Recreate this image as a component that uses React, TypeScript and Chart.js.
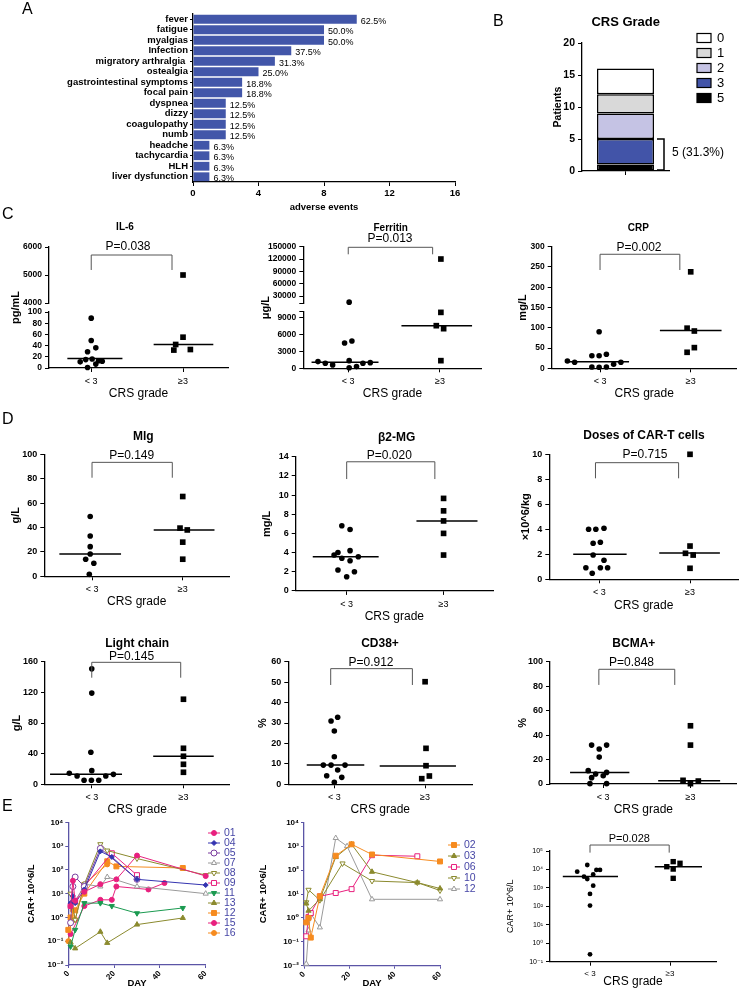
import React, { useEffect, useRef } from 'react';
import { Chart, registerables } from 'chart.js';
import { drawPoint } from 'chart.js/helpers';

Chart.register(...registerables);

const FONT = "'Liberation Sans', 'DejaVu Sans', Arial, sans-serif";
Chart.defaults.font.family = FONT;
Chart.defaults.color = '#000';

type Pt = [number, number];

// ================= DATA =================
// Panel A
const AE_LABELS = ['fever', 'fatigue', 'myalgias', 'Infection', 'migratory arthralgia ', 'ostealgia', 'gastrointestinal symptoms', 'focal pain', 'dyspnea', 'dizzy', 'coagulopathy', 'numb', 'headche', 'tachycardia', 'HLH', 'liver dysfunction'];
const AE_COUNTS = [10, 8, 8, 6, 5, 4, 3, 3, 2, 2, 2, 2, 1, 1, 1, 1];
const AE_TICKS = [0, 4, 8, 12, 16];
const N_PATIENTS = 16;

// Panel B (stack order bottom -> top)
const CRS_GRADES = ['5', '3', '2', '1', '0'];
const CRS_PATIENTS = [1, 4, 4, 3, 4];
const CRS_TICKS = [0, 5, 10, 15, 20];

// Panels C/D/E3 : [x position within group, value]
const GROUPS = ['< 3', '≥3'];

const IL6_LT3: Pt[] = [[1.0, 89], [1.0, 49], [0.96, 29], [1.05, 36], [0.88, 11], [0.94, 15], [1.01, 16], [1.12, 12], [0.96, 1], [1.05, 7], [1.08, 13]];
const IL6_GE3: Pt[] = [[2.0, 5000], [2.0, 55], [1.92, 42], [1.9, 32], [2.08, 33]];
const IL6_MEDIANS = [17, 42];
const IL6_TICKS_HIGH = [4000, 5000, 6000];
const IL6_TICKS_LOW = [0, 20, 40, 60, 80, 100];

const FER_LT3: Pt[] = [[1.01, 15000], [0.96, 4470], [1.04, 4820], [0.67, 1180], [0.75, 880], [0.83, 600], [1.01, 1350], [1.16, 880], [1.24, 1000], [1.01, 100], [1.09, 300]];
const FER_GE3: Pt[] = [[2.01, 120000], [2.01, 9880], [1.96, 7530], [2.04, 7000], [2.01, 1350]];
const FER_MEDIANS = [1060, 7530];
const FER_TICKS_HIGH = [12000, 30000, 60000, 90000, 120000, 150000];
const FER_TICKS_LOW = [0, 3000, 6000, 9000, 10000];

const CRP_LT3: Pt[] = [[0.99, 90], [0.91, 31], [0.99, 31], [1.07, 34.5], [0.64, 18], [0.72, 15], [1.23, 15], [0.91, 3.3], [0.99, 2.5], [1.07, 3.3], [1.15, 10]];
const CRP_GE3: Pt[] = [[2.0, 238], [1.96, 99], [2.04, 92], [1.96, 39.5], [2.04, 51]];
const CRP_MEDIANS = [16.4, 93];
const CRP_TICKS = [0, 50, 100, 150, 200, 250, 300];

const MIG_LT3: Pt[] = [[0.98, 49], [0.98, 33], [0.98, 24.3], [0.98, 18.3], [0.93, 14], [1.02, 10.7], [0.97, 1.6]];
const MIG_GE3: Pt[] = [[2.0, 65.4], [1.97, 39.5], [2.05, 38], [2.0, 28], [2.0, 14]];
const MIG_MEDIANS = [18.3, 38];
const MIG_TICKS = [0, 20, 40, 60, 80, 100];

const B2M_LT3: Pt[] = [[0.95, 6.8], [1.035, 6.4], [0.87, 3.74], [0.91, 4.0], [1.035, 4.2], [0.95, 3.4], [1.035, 3.15], [1.12, 3.56], [0.91, 2.18], [1.0, 1.48], [1.08, 2.0]];
const B2M_GE3: Pt[] = [[2.0, 9.65], [2.0, 8.35], [2.0, 7.3], [2.0, 6.0], [2.0, 3.74]];
const B2M_MEDIANS = [3.56, 7.3];
const B2M_TICKS = [0, 2, 4, 6, 8, 10, 12, 14];

const DOSE_LT3: Pt[] = [[0.88, 4.0], [0.96, 4.0], [1.05, 4.08], [0.93, 2.88], [1.01, 2.96], [0.93, 1.94], [1.05, 1.52], [0.85, 0.93], [0.92, 0.48], [1.01, 0.93], [1.09, 0.93]];
const DOSE_GE3: Pt[] = [[2.0, 10], [2.0, 2.66], [1.95, 2.08], [2.035, 1.94], [2.0, 0.88]];
const DOSE_MEDIANS = [2.0, 2.1];
const DOSE_TICKS = [0, 2, 4, 6, 8, 10];

const LC_LT3: Pt[] = [[1.0, 150.7], [1.0, 119], [0.99, 41.8], [0.755, 14.4], [0.84, 10.8], [1.0, 17.8], [1.153, 10.8], [1.236, 13], [0.916, 5.2], [0.996, 5.2], [1.076, 5.2]];
const LC_GE3: Pt[] = [[2.0, 111], [2.0, 47], [2.0, 36.6], [2.0, 26.1], [2.0, 15.7]];
const LC_MEDIANS = [13, 36.6];
const LC_TICKS = [0, 40, 80, 120, 160];

const CD38_LT3: Pt[] = [[0.964, 31], [1.037, 32.8], [1.0, 26.1], [1.0, 13.5], [0.879, 9.4], [0.964, 9.4], [1.118, 9.4], [1.037, 7], [0.916, 4.2], [1.082, 3.4], [1.0, 1.0]];
const CD38_GE3: Pt[] = [[2.0, 50.2], [2.01, 17.6], [2.01, 9.1], [2.047, 4.06], [1.963, 2.75]];
const CD38_MEDIANS = [9.45, 9.0];
const CD38_TICKS = [0, 10, 20, 30, 40, 50, 60];

const BCMA_LT3: Pt[] = [[0.867, 31.8], [0.954, 28.6], [1.039, 31.8], [0.954, 22], [0.828, 10.9], [1.039, 9.5], [0.913, 8.2], [1.0, 6.8], [0.867, 5.2], [0.848, 0.3], [1.039, 0.3]];
const BCMA_GE3: Pt[] = [[2.0, 47.6], [2.0, 31.8], [1.915, 3.0], [2.09, 2.4], [2.0, 0.3]];
const BCMA_MEDIANS = [9.5, 2.7];
const BCMA_TICKS = [0, 20, 40, 60, 80, 100];

const CARP_LT3: Pt[] = [[0.966, 17400], [0.84, 7600], [1.08, 9400], [1.125, 9400], [0.925, 4070], [0.966, 3020], [1.04, 5400], [1.04, 1320], [1.0, 470], [1.0, 110], [1.0, 0.25]];
const CARP_GE3: Pt[] = [[2.04, 26500], [2.125, 21600], [1.96, 14100], [2.04, 10500], [2.04, 3300]];
const CARP_MEDIANS = [4100, 14100];
const CARP_TICKS = [0.1, 1, 10, 100, 1000, 10000, 100000];

// Panel E kinetics : [day, CAR+ 10^6/L]
const DAY_TICKS = [0, 20, 40, 60];
const E_LOG_TICKS = [0.01, 0.1, 1, 10, 100, 1000, 10000];

const E1_01: Pt[] = [[1, 3], [2, 35], [3, 5], [7, 12], [14, 25], [21, 40], [30, 400], [60, 55]];
const E1_04: Pt[] = [[1, 4], [2, 8], [3, 4], [7, 15], [14, 600], [19, 350], [30, 40], [60, 23]];
const E1_05: Pt[] = [[1, 0.6], [2, 20], [3, 50], [7, 20], [14, 800], [30, 40]];
const E1_07: Pt[] = [[1, 3], [3, 4], [7, 25], [14, 20], [17, 50], [30, 20], [60, 10]];
const E1_08: Pt[] = [[1, 10], [3, 0.8], [7, 25], [14, 1200], [17, 650], [30, 300], [60, 60]];
const E1_09: Pt[] = [[1, 3], [3, 5], [7, 20], [19, 500], [30, 60]];
const E1_11: Pt[] = [[1, 0.06], [3, 0.3], [7, 4], [14, 4], [19, 3], [30, 1.5], [50, 2.5]];
const E1_13: Pt[] = [[1, 0.09], [3, 0.05], [14, 0.25], [17, 0.085], [30, 0.5], [50, 0.95]];
const E1_12: Pt[] = [[0, 0.3], [1, 1], [3, 2], [7, 10], [17, 230], [21, 140], [50, 120]];
const E1_15: Pt[] = [[1, 0.2], [7, 3], [14, 5.5], [19, 5.5], [21, 20], [35, 15], [42, 28]];
const E1_16: Pt[] = [[0, 0.1], [2, 2], [3, 0.8], [7, 25], [17, 170]];

const E2_02: Pt[] = [[1, 0.65], [2, 1.0], [3, 0.15], [7, 8], [14, 400], [21, 1200], [30, 450], [60, 230]];
const E2_03: Pt[] = [[1, 4], [2, 2], [7, 6], [14, 350], [21, 1200], [30, 85], [50, 30], [60, 17]];
const E2_06: Pt[] = [[1, 0.17], [2, 1.1], [3, 1.6], [7, 8], [14, 11], [21, 16], [30, 420], [50, 380]];
const E2_10: Pt[] = [[1, 4.5], [2, 15], [7, 5.5], [17, 190], [30, 35], [50, 30], [60, 14]];
const E2_12: Pt[] = [[1, 0.012], [2, 0.3], [3, 1.5], [7, 0.4], [14, 2200], [19, 1000], [30, 6], [60, 6]];

// ================= STYLE / LAYOUT =================
const BLUE = '#4256A9';
const MAG = '#E8207E';
const BLU = '#3434B0';
const PUR = '#7A3D9E';
const GRY = '#9A9A9A';
const OLV = '#8B8A2E';
const GRN = '#1A9A50';
const ORG = '#F68B1F';
const E_AX = '#5B55A6';
const E_LEG = '#4646A6';

interface Geo { cl: number; ct: number; cw: number; ch: number; al: number; at: number; ar: number; ab: number; }
interface Txt { text: string; x: number; y: number; size: number; bold?: boolean; color?: string; align?: CanvasTextAlign; }
interface YPart { id: string; min: number; max: number; ticks: number[]; blank?: number[]; stackWeight?: number; weight?: number; log?: boolean; }
interface Bracket { x1: number; x2: number; top: number; bottom: number; axis: string; }

const font = (size: number, bold = false) => ({ family: FONT, size, weight: bold ? 'bold' : 'normal', lineHeight: 1.2 });
const fixedTicks = (values: number[]) => (s: any) => { s.ticks = values.map((v) => ({ value: v })); };
const axis = (color: string, tickLength: number) => ({
  grid: { display: true, drawOnChartArea: false, drawTicks: true, tickLength, color, lineWidth: 1, offset: false },
  border: { display: true, color, width: 1.3 },
});
const padFor = (g: Geo, left: number) => ({ left, top: g.at - g.ct, right: g.cl + g.cw - g.ar, bottom: 0 });
const SUP: Record<string, string> = { '0': '⁰', '1': '¹', '2': '²', '3': '³', '4': '⁴', '5': '⁵', '6': '⁶', '7': '⁷', '8': '⁸', '9': '⁹', '-': '⁻' };
const pow10 = (v: number) => '10' + String(Math.round(Math.log10(v))).split('').map((c) => SUP[c]).join('');

function decor(g: Geo, texts: Txt[], bracket?: Bracket) {
  return {
    id: 'decor',
    afterDraw(chart: any) {
      const ctx: CanvasRenderingContext2D = chart.ctx;
      ctx.save();
      if (bracket) {
        const xs = chart.scales.x;
        const ys = chart.scales[bracket.axis];
        const x1 = xs.getPixelForValue(bracket.x1);
        const x2 = xs.getPixelForValue(bracket.x2);
        const yt = ys.getPixelForValue(bracket.top);
        const yb = ys.getPixelForValue(bracket.bottom);
        ctx.strokeStyle = '#555';
        ctx.lineWidth = 1;
        ctx.beginPath();
        ctx.moveTo(x1, yb); ctx.lineTo(x1, yt); ctx.lineTo(x2, yt); ctx.lineTo(x2, yb);
        ctx.stroke();
      }
      for (const t of texts) {
        ctx.font = `${t.bold ? 'bold ' : ''}${t.size}px ${FONT}`;
        ctx.fillStyle = t.color || '#000';
        ctx.textAlign = t.align || 'center';
        ctx.textBaseline = 'middle';
        ctx.fillText(t.text, t.x - g.cl, t.y - g.ct);
      }
      ctx.restore();
    },
  };
}

// ---------- Panel A ----------
const GA: Geo = { cl: 0, ct: 0, cw: 480, ch: 215, al: 193, at: 14, ar: 455, ab: 182 };
const aePlugin = {
  id: 'aeLabels',
  afterDatasetsDraw(chart: any) {
    const ctx: CanvasRenderingContext2D = chart.ctx;
    const meta = chart.getDatasetMeta(0);
    ctx.save();
    ctx.font = `9px ${FONT}`;
    ctx.fillStyle = '#000';
    ctx.textAlign = 'left';
    ctx.textBaseline = 'middle';
    meta.data.forEach((bar: any, i: number) => {
      ctx.fillText(`${((AE_COUNTS[i] / N_PATIENTS) * 100).toFixed(1)}%`, bar.x + 4, bar.y + 2);
    });
    ctx.restore();
  },
};
function buildA() {
  const g = GA;
  return {
    type: 'bar',
    data: { labels: AE_LABELS, datasets: [{ data: AE_COUNTS, backgroundColor: BLUE, borderWidth: 0, barPercentage: 0.84, categoryPercentage: 1 }] },
    options: {
      indexAxis: 'y', responsive: false, animation: false, devicePixelRatio: 1, events: [],
      layout: { padding: padFor(g, 0) },
      plugins: { legend: { display: false }, tooltip: { enabled: false } },
      scales: {
        x: {
          type: 'linear', min: 0, max: 16, afterBuildTicks: fixedTicks(AE_TICKS),
          afterFit: (s: any) => { s.height = g.ct + g.ch - g.ab; },
          ticks: { font: font(9.5, true), color: '#000', padding: 2, autoSkip: false, maxRotation: 0 },
          ...axis('#000', 4),
          title: { display: true, text: 'adverse events', font: font(9.5, true), color: '#000', padding: { top: 0, bottom: 2 } },
        },
        y: {
          type: 'category', afterFit: (s: any) => { s.width = g.al - g.cl; },
          ticks: { font: font(9.5, true), color: '#000', padding: 2, autoSkip: false },
          ...axis('#000', 3),
        },
      },
    },
    plugins: [aePlugin],
  };
}

// ---------- Panel B ----------
const GB: Geo = { cl: 480, ct: 0, cw: 262, ch: 190, al: 582, at: 43, ar: 669, ab: 171 };
const CRS_COLORS = ['#000000', '#4254A8', '#C5C3E4', '#D9D9D9', '#FFFFFF'];
function buildB() {
  const g = GB;
  const padL = 558 - 6.3 - g.cl;
  const crsPlugin = {
    id: 'crs',
    afterDraw(chart: any) {
      const ctx: CanvasRenderingContext2D = chart.ctx;
      ctx.save();
      ctx.fillStyle = '#000';
      ctx.font = `bold 13px ${FONT}`;
      ctx.textAlign = 'center';
      ctx.textBaseline = 'middle';
      ctx.fillText('CRS Grade', 625.7 - g.cl, 22 - g.ct);
      const ds = chart.data.datasets;
      for (let k = 0; k < ds.length; k++) {
        const d = ds[ds.length - 1 - k];
        const y = 38 + k * 15 - g.ct;
        const x = 697 - g.cl;
        ctx.fillStyle = d.backgroundColor;
        ctx.fillRect(x, y - 4.5, 14, 9);
        ctx.strokeStyle = '#000';
        ctx.lineWidth = 1.2;
        ctx.strokeRect(x, y - 4.5, 14, 9);
        ctx.fillStyle = '#000';
        ctx.font = `13px ${FONT}`;
        ctx.textAlign = 'left';
        ctx.fillText(d.label, 717 - g.cl, y + 0.5);
      }
      const ys = chart.scales.y;
      const severe = CRS_PATIENTS.filter((_, i) => Number(CRS_GRADES[i]) >= 3).reduce((a, b) => a + b, 0);
      const total = CRS_PATIENTS.reduce((a, b) => a + b, 0);
      const yt = ys.getPixelForValue(severe);
      const yb = ys.getPixelForValue(0) - 1;
      const bx = 664 - g.cl;
      ctx.strokeStyle = '#000';
      ctx.lineWidth = 1.5;
      ctx.beginPath();
      ctx.moveTo(bx - 7, yt); ctx.lineTo(bx, yt); ctx.lineTo(bx, yb); ctx.lineTo(bx - 7, yb);
      ctx.stroke();
      ctx.font = `12px ${FONT}`;
      ctx.textAlign = 'left';
      ctx.fillText(`${severe} (${((severe / total) * 100).toFixed(1)}%)`, 672 - g.cl, 153 - g.ct);
      ctx.restore();
    },
  };
  return {
    type: 'bar',
    data: {
      labels: [''],
      datasets: CRS_GRADES.map((gr, i) => ({
        label: gr, data: [CRS_PATIENTS[i]], backgroundColor: CRS_COLORS[i], borderColor: '#000', borderWidth: 1.5,
        borderSkipped: false, barPercentage: 0.655, categoryPercentage: 1,
      })),
    },
    options: {
      responsive: false, animation: false, devicePixelRatio: 1, events: [],
      layout: { padding: padFor(g, padL) },
      plugins: { legend: { display: false }, tooltip: { enabled: false } },
      scales: {
        x: {
          stacked: true, afterFit: (s: any) => { s.height = g.ct + g.ch - g.ab; },
          ticks: { display: true, font: font(9), padding: 1 },
          grid: { display: true, drawOnChartArea: false, drawTicks: true, tickLength: 4, color: '#000', offset: false },
          border: { display: true, color: '#000', width: 1.3 },
        },
        y: {
          stacked: true, min: 0, max: 20, afterBuildTicks: fixedTicks(CRS_TICKS),
          afterFit: (s: any) => { s.width = g.al - g.cl - padL; },
          ticks: { font: font(10.5, true), color: '#000', padding: 3, autoSkip: false },
          ...axis('#000', 4),
          title: { display: true, text: 'Patients', font: font(10.5, true), color: '#000', padding: 0 },
        },
      },
    },
    plugins: [crsPlugin],
  };
}

// ---------- scatter panels ----------
interface ScatterSpec {
  g: Geo; xMin: number; xMax: number; parts: YPart[]; gapWeight?: number;
  yTitle: string; yTitleX: number; yTitleSize: number; yTitleBold: boolean;
  yTickSize: number; yTickBold: boolean; xTickSize: number; xTickPad: number; xTitleSize: number;
  low: Pt[]; high: Pt[]; medians: number[]; lowSpan: [number, number]; highSpan: [number, number];
  dotR: number; sqR: number; texts: Txt[]; bracket: Bracket;
}

function buildScatter(s: ScatterSpec) {
  const g = s.g;
  const padL = s.yTitleX - (s.yTitleSize * 1.2) / 2 - g.cl;
  const yW = g.al - g.cl - padL;
  const xH = g.ct + g.ch - g.ab;
  const broken = s.parts.length > 1;
  const yTitle = { display: true, text: s.yTitle, font: font(s.yTitleSize, s.yTitleBold), color: '#000', padding: 0 };
  const scales: any = {
    x: {
      type: 'linear', min: s.xMin, max: s.xMax,
      afterBuildTicks: fixedTicks([1, 2]),
      afterFit: (sc: any) => { sc.height = xH; },
      ticks: {
        autoSkip: false, maxRotation: 0, minRotation: 0, font: font(s.xTickSize), color: '#000', padding: s.xTickPad,
        callback: (v: number) => GROUPS[Math.round(v) - 1],
      },
      ...axis('#000', 4),
      title: { display: true, text: 'CRS grade', font: font(s.xTitleSize), color: '#000', padding: 0 },
    },
  };
  s.parts.forEach((p) => {
    scales[p.id] = {
      type: p.log ? 'logarithmic' : 'linear', position: 'left', min: p.min, max: p.max,
      afterBuildTicks: fixedTicks(p.ticks),
      afterFit: (sc: any) => { sc.width = yW; },
      ticks: {
        autoSkip: false, font: font(s.yTickSize, s.yTickBold), color: '#000', padding: 3,
        callback: (v: number) => (p.blank && p.blank.includes(v) ? '' : p.log ? pow10(v) : String(v)),
      },
      ...axis('#000', 4),
      title: broken ? { display: false } : yTitle,
      ...(broken ? { stack: 'left', stackWeight: p.stackWeight, weight: p.weight } : {}),
    };
  });
  if (broken) {
    scales.yGap = {
      type: 'linear', position: 'left', min: 0, max: 1, stack: 'left', stackWeight: s.gapWeight, weight: 2,
      afterFit: (sc: any) => { sc.width = yW; },
      ticks: { display: false }, grid: { display: false }, border: { display: false }, title: yTitle,
    };
  }
  const partOf = (y: number) => (broken && y > s.parts[1].max ? s.parts[0].id : s.parts[s.parts.length - 1].id);
  const datasets: any[] = [];
  const addGroup = (pts: Pt[], style: string, r: number) => {
    s.parts.forEach((p) => {
      const sub = pts.filter(([, y]) => partOf(y) === p.id);
      if (sub.length) {
        datasets.push({
          data: sub.map(([x, y]) => ({ x, y })), yAxisID: p.id, pointStyle: style, pointRadius: r,
          pointBackgroundColor: '#000', pointBorderColor: '#000', pointBorderWidth: 0, showLine: false, clip: false,
        });
      }
    });
  };
  addGroup(s.low, 'circle', s.dotR);
  addGroup(s.high, 'rect', s.sqR);
  [s.lowSpan, s.highSpan].forEach((span, i) => {
    const m = s.medians[i];
    datasets.push({
      data: [{ x: span[0], y: m }, { x: span[1], y: m }], yAxisID: partOf(m), showLine: true,
      pointRadius: 0, borderColor: '#000', borderWidth: 1.5, clip: false,
    });
  });
  return {
    type: 'scatter',
    data: { datasets },
    options: {
      responsive: false, animation: false, devicePixelRatio: 1, events: [],
      layout: { padding: padFor(g, padL) },
      plugins: { legend: { display: false }, tooltip: { enabled: false } },
      scales,
    },
    plugins: [decor(g, s.texts, s.bracket)],
  };
}

const COMMON_C = { yTitleSize: 11, yTitleBold: true, yTickSize: 8.5, yTickBold: true, xTickSize: 9, xTickPad: 4, xTitleSize: 12, dotR: 2.8, sqR: 4 };
const COMMON_D = { ...COMMON_C, yTickSize: 9 };

const SPEC_IL6: ScatterSpec = {
  ...COMMON_C,
  g: { cl: 0, ct: 215, cw: 245, ch: 186, al: 49, at: 247, ar: 228, ab: 368 },
  xMin: 0.54, xMax: 2.49,
  parts: [
    { id: 'yU', min: 4000, max: 6000, ticks: IL6_TICKS_HIGH, stackWeight: 56, weight: 3 },
    { id: 'yL', min: 0, max: 100, ticks: IL6_TICKS_LOW, stackWeight: 56, weight: 1 },
  ],
  gapWeight: 9,
  yTitle: 'pg/mL', yTitleX: 16,
  low: IL6_LT3, high: IL6_GE3, medians: IL6_MEDIANS, lowSpan: [0.74, 1.34], highSpan: [1.68, 2.33],
  texts: [{ text: 'IL-6', x: 125, y: 227, size: 10, bold: true }, { text: 'P=0.038', x: 128, y: 247, size: 12 }],
  bracket: { x1: 1, x2: 1.88, top: 5714, bottom: 5179, axis: 'yU' },
};

const SPEC_FER: ScatterSpec = {
  ...COMMON_C,
  g: { cl: 250, ct: 215, cw: 245, ch: 186, al: 303.3, at: 246.7, ar: 481.7, ab: 368.3 },
  xMin: 0.51, xMax: 2.455,
  parts: [
    { id: 'yU', min: 12000, max: 150000, ticks: FER_TICKS_HIGH, blank: [12000], stackWeight: 56.7, weight: 3 },
    { id: 'yL', min: 0, max: 10000, ticks: FER_TICKS_LOW, blank: [10000], stackWeight: 56.6, weight: 1 },
  ],
  gapWeight: 8.3,
  yTitle: 'μg/L', yTitleX: 265.7,
  low: FER_LT3, high: FER_GE3, medians: FER_MEDIANS, lowSpan: [0.6, 1.33], highSpan: [1.58, 2.35],
  texts: [{ text: 'Ferritin', x: 390.7, y: 228.3, size: 10, bold: true }, { text: 'P=0.013', x: 390, y: 238.3, size: 12 }],
  bracket: { x1: 1, x2: 1.92, top: 148540, bottom: 131500, axis: 'yU' },
};

const SPEC_CRP: ScatterSpec = {
  ...COMMON_C,
  g: { cl: 497, ct: 215, cw: 245, ch: 186, al: 551.7, at: 246.7, ar: 736.7, ab: 368.3 },
  xMin: 0.467, xMax: 2.507,
  parts: [{ id: 'y', min: 0, max: 300, ticks: CRP_TICKS }],
  yTitle: 'mg/L', yTitleX: 523.3,
  low: CRP_LT3, high: CRP_GE3, medians: CRP_MEDIANS, lowSpan: [0.63, 1.32], highSpan: [1.66, 2.34],
  texts: [{ text: 'CRP', x: 638.3, y: 228.3, size: 10, bold: true }, { text: 'P=0.002', x: 639, y: 247.7, size: 12 }],
  bracket: { x1: 1, x2: 1.88, top: 281.3, bottom: 242.5, axis: 'y' },
};

const SPEC_MIG: ScatterSpec = {
  ...COMMON_D,
  g: { cl: 0, ct: 415, cw: 245, ch: 194, al: 44.3, at: 454.3, ar: 229, ab: 576.3 },
  xMin: 0.474, xMax: 2.51,
  parts: [{ id: 'y', min: 0, max: 100, ticks: MIG_TICKS }],
  yTitle: 'g/L', yTitleX: 16,
  low: MIG_LT3, high: MIG_GE3, medians: MIG_MEDIANS, lowSpan: [0.64, 1.32], highSpan: [1.68, 2.35],
  texts: [{ text: 'Mlg', x: 143.3, y: 436.7, size: 12, bold: true }, { text: 'P=0.149', x: 131.7, y: 455.7, size: 12 }],
  bracket: { x1: 1, x2: 1.885, top: 93.4, bottom: 80.8, axis: 'y' },
};

const SPEC_B2M: ScatterSpec = {
  ...COMMON_D,
  g: { cl: 250, ct: 415, cw: 247, ch: 209, al: 295.7, at: 456.7, ar: 496, ab: 590.9 },
  xMin: 0.474, xMax: 2.51,
  parts: [{ id: 'y', min: 0, max: 14, ticks: B2M_TICKS }],
  yTitle: 'mg/L', yTitleX: 266.7,
  low: B2M_LT3, high: B2M_GE3, medians: B2M_MEDIANS, lowSpan: [0.65, 1.33], highSpan: [1.72, 2.35],
  texts: [{ text: 'β2-MG', x: 396.7, y: 437.3, size: 12, bold: true }, { text: 'P=0.020', x: 389.3, y: 456, size: 12 }],
  bracket: { x1: 1, x2: 1.91, top: 13.47, bottom: 11.67, axis: 'y' },
};

const SPEC_DOSE: ScatterSpec = {
  ...COMMON_D,
  g: { cl: 497, ct: 415, cw: 245, ch: 198, al: 549.3, at: 454.3, ar: 740, ab: 579.3 },
  xMin: 0.446, xMax: 2.53,
  parts: [{ id: 'y', min: 0, max: 10, ticks: DOSE_TICKS }],
  yTitle: '×10^6/kg', yTitleX: 526,
  low: DOSE_LT3, high: DOSE_GE3, medians: DOSE_MEDIANS, lowSpan: [0.71, 1.3], highSpan: [1.66, 2.33],
  texts: [{ text: 'Doses of CAR-T cells', x: 644, y: 436, size: 12, bold: true }, { text: 'P=0.715', x: 645, y: 455, size: 12 }],
  bracket: { x1: 0.956, x2: 1.874, top: 9.33, bottom: 8.08, axis: 'y' },
};

const SPEC_LC: ScatterSpec = {
  ...COMMON_D,
  g: { cl: 0, ct: 625, cw: 245, ch: 192, al: 45, at: 661.7, ar: 229.3, ab: 784.3 },
  xMin: 0.49, xMax: 2.5,
  parts: [{ id: 'y', min: 0, max: 160, ticks: LC_TICKS }],
  yTitle: 'g/L', yTitleX: 16.7,
  low: LC_LT3, high: LC_GE3, medians: LC_MEDIANS, lowSpan: [0.545, 1.33], highSpan: [1.67, 2.33],
  texts: [{ text: 'Light chain', x: 137.2, y: 644, size: 12, bold: true }, { text: 'P=0.145', x: 131.6, y: 657, size: 12 }],
  bracket: { x1: 1, x2: 1.97, top: 159.2, bottom: 139.1, axis: 'y' },
};

const SPEC_CD38: ScatterSpec = {
  ...COMMON_D,
  g: { cl: 250, ct: 625, cw: 245, ch: 192, al: 288.3, at: 661.7, ar: 472.3, ab: 784.3 },
  xMin: 0.493, xMax: 2.52,
  parts: [{ id: 'y', min: 0, max: 60, ticks: CD38_TICKS }],
  yTitle: '%', yTitleX: 263,
  low: CD38_LT3, high: CD38_GE3, medians: CD38_MEDIANS, lowSpan: [0.696, 1.33], highSpan: [1.5, 2.34],
  texts: [{ text: 'CD38+', x: 380, y: 644, size: 12, bold: true }, { text: 'P=0.912', x: 371, y: 662.3, size: 12 }],
  bracket: { x1: 0.96, x2: 1.86, top: 56.6, bottom: 48.6, axis: 'y' },
};

const SPEC_BCMA: ScatterSpec = {
  ...COMMON_D,
  g: { cl: 497, ct: 625, cw: 245, ch: 192, al: 550, at: 661.7, ar: 736.7, ab: 784 },
  xMin: 0.39, xMax: 2.53,
  parts: [{ id: 'y', min: 0, max: 100, ticks: BCMA_TICKS }],
  yTitle: '%', yTitleX: 523.3,
  low: BCMA_LT3, high: BCMA_GE3, medians: BCMA_MEDIANS, lowSpan: [0.62, 1.3], highSpan: [1.63, 2.34],
  texts: [{ text: 'BCMA+', x: 633.8, y: 644, size: 12, bold: true }, { text: 'P=0.848', x: 631.5, y: 662.3, size: 12 }],
  bracket: { x1: 0.95, x2: 1.82, top: 93.8, bottom: 81, axis: 'y' },
};

const SPEC_CARP: ScatterSpec = {
  yTitleSize: 9, yTitleBold: false, yTickSize: 7, yTickBold: false, xTickSize: 8, xTickPad: 2.8, xTitleSize: 12, dotR: 2.4, sqR: 3.8,
  g: { cl: 497, ct: 805, cw: 245, ch: 184, al: 550, at: 851, ar: 716, ab: 961.7 },
  xMin: 0.5, xMax: 2.575,
  parts: [{ id: 'y', min: 0.1, max: 100000, ticks: CARP_TICKS, log: true }],
  yTitle: 'CAR+ 10^6/L', yTitleX: 510.7,
  low: CARP_LT3, high: CARP_GE3, medians: CARP_MEDIANS, lowSpan: [0.66, 1.35], highSpan: [1.81, 2.4],
  texts: [{ text: 'P=0.028', x: 629.3, y: 839, size: 11 }],
  bracket: { x1: 1, x2: 1.99, top: 211000, bottom: 81600, axis: 'y' },
};

// ---------- kinetics panels ----------
interface Series { label: string; pts: Pt[]; color: string; style: string; rot?: number; filled: boolean; r: number; }

const E1_SERIES: Series[] = [
  { label: '01', pts: E1_01, color: MAG, style: 'circle', filled: true, r: 2.5 },
  { label: '04', pts: E1_04, color: BLU, style: 'rectRot', filled: true, r: 2.5 },
  { label: '05', pts: E1_05, color: PUR, style: 'circle', filled: false, r: 3 },
  { label: '07', pts: E1_07, color: GRY, style: 'triangle', filled: false, r: 3 },
  { label: '08', pts: E1_08, color: OLV, style: 'triangle', rot: 180, filled: false, r: 3 },
  { label: '09', pts: E1_09, color: MAG, style: 'rect', filled: false, r: 3.5 },
  { label: '11', pts: E1_11, color: GRN, style: 'triangle', rot: 180, filled: true, r: 3 },
  { label: '13', pts: E1_13, color: OLV, style: 'triangle', filled: true, r: 3 },
  { label: '12', pts: E1_12, color: ORG, style: 'rect', filled: true, r: 3.5 },
  { label: '15', pts: E1_15, color: MAG, style: 'circle', filled: true, r: 2.5 },
  { label: '16', pts: E1_16, color: ORG, style: 'circle', filled: true, r: 2.5 },
];
const E2_SERIES: Series[] = [
  { label: '02', pts: E2_02, color: ORG, style: 'rect', filled: true, r: 3.5 },
  { label: '03', pts: E2_03, color: OLV, style: 'triangle', filled: true, r: 3 },
  { label: '06', pts: E2_06, color: MAG, style: 'rect', filled: false, r: 3.5 },
  { label: '10', pts: E2_10, color: OLV, style: 'triangle', rot: 180, filled: false, r: 3 },
  { label: '12', pts: E2_12, color: GRY, style: 'triangle', filled: false, r: 3 },
];

const GE1: Geo = { cl: 0, ct: 805, cw: 245, ch: 186, al: 68.3, at: 822.3, ar: 205.7, ab: 965 };
const GE2: Geo = { cl: 250, ct: 805, cw: 245, ch: 186, al: 304, at: 822.3, ar: 440, ab: 965.7 };

function buildKinetics(g: Geo, series: Series[], yTitleX: number, legend: { x: number; y: number; step: number }) {
  const padL = yTitleX - 5.7 - g.cl;
  const yW = g.al - g.cl - padL;
  const xH = g.ct + g.ch - g.ab;
  const datasets = series.map((s) => ({
    label: s.label, data: s.pts.map(([x, y]) => ({ x, y })), showLine: true,
    borderColor: s.color, borderWidth: 1, backgroundColor: s.color,
    pointStyle: s.style, pointRotation: s.rot || 0, pointRadius: s.r,
    pointBackgroundColor: s.filled ? s.color : '#fff', pointBorderColor: s.color, pointBorderWidth: 1, clip: false,
  }));
  const legendPlugin = {
    id: 'eLegend',
    afterDraw(chart: any) {
      const ctx: CanvasRenderingContext2D = chart.ctx;
      ctx.save();
      series.forEach((s, i) => {
        const y = legend.y + i * legend.step - g.ct;
        const x = legend.x - g.cl;
        ctx.strokeStyle = s.color;
        ctx.lineWidth = 1;
        ctx.beginPath(); ctx.moveTo(x, y); ctx.lineTo(x + 12, y); ctx.stroke();
        ctx.fillStyle = s.filled ? s.color : '#fff';
        drawPoint(ctx, { pointStyle: s.style, rotation: s.rot || 0, radius: s.r, borderWidth: 1 } as any, x + 6, y);
        ctx.fillStyle = E_LEG;
        ctx.font = `10.5px ${FONT}`;
        ctx.textAlign = 'left';
        ctx.textBaseline = 'middle';
        ctx.fillText(s.label, x + 16, y + 0.5);
      });
      ctx.restore();
    },
  };
  return {
    type: 'scatter',
    data: { datasets },
    options: {
      responsive: false, animation: false, devicePixelRatio: 1, events: [],
      layout: { padding: padFor(g, padL) },
      plugins: { legend: { display: false }, tooltip: { enabled: false } },
      scales: {
        x: {
          type: 'linear', min: 0, max: 60, afterBuildTicks: fixedTicks(DAY_TICKS),
          afterFit: (sc: any) => { sc.height = xH; },
          ticks: { autoSkip: false, minRotation: 45, maxRotation: 45, font: font(8, true), color: '#000', padding: 1 },
          ...axis(E_AX, 3),
          title: { display: true, text: 'DAY', font: font(9.5, true), color: '#000', padding: { top: 0, bottom: 2 } },
        },
        y: {
          type: 'logarithmic', min: 0.01, max: 10000, afterBuildTicks: fixedTicks(E_LOG_TICKS),
          afterFit: (sc: any) => { sc.width = yW; },
          ticks: { autoSkip: false, font: font(8, true), color: '#000', padding: 2, callback: (v: number) => pow10(v) },
          ...axis(E_AX, 3),
          title: { display: true, text: 'CAR+ 10^6/L', font: font(9.5, true), color: '#000', padding: 0 },
        },
      },
    },
    plugins: [legendPlugin],
  };
}

// ================= COMPONENTS =================
function ChartBox({ g, build }: { g: Geo; build: () => any }) {
  const ref = useRef<HTMLCanvasElement | null>(null);
  useEffect(() => {
    if (!ref.current) return;
    const chart = new Chart(ref.current, build());
    return () => chart.destroy();
  }, [build]);
  return (
    <canvas
      ref={ref}
      width={g.cw}
      height={g.ch}
      style={{ position: 'absolute', left: g.cl, top: g.ct, width: g.cw, height: g.ch }}
    />
  );
}

const PANELS: { g: Geo; build: () => any }[] = [
  { g: GA, build: buildA },
  { g: GB, build: buildB },
  ...[SPEC_IL6, SPEC_FER, SPEC_CRP, SPEC_MIG, SPEC_B2M, SPEC_DOSE, SPEC_LC, SPEC_CD38, SPEC_BCMA, SPEC_CARP].map((s) => ({ g: s.g, build: () => buildScatter(s) })),
  { g: GE1, build: () => buildKinetics(GE1, E1_SERIES, 31.7, { x: 208, y: 833, step: 10 }) },
  { g: GE2, build: () => buildKinetics(GE2, E2_SERIES, 263.3, { x: 448, y: 845, step: 11 }) },
];

const LETTERS = [
  { t: 'A', x: 22, y: 1 },
  { t: 'B', x: 493, y: 13 },
  { t: 'C', x: 2, y: 206 },
  { t: 'D', x: 2, y: 411 },
  { t: 'E', x: 2, y: 798 },
];

export default function App() {
  return (
    <div style={{ position: 'absolute', left: 0, top: 0, width: 742, height: 991, background: '#fff', fontFamily: FONT }}>
      {PANELS.map((p, i) => (
        <ChartBox key={i} g={p.g} build={p.build} />
      ))}
      {LETTERS.map((l) => (
        <div key={l.t} style={{ position: 'absolute', left: l.x, top: l.y, fontSize: 16, lineHeight: '16px', color: '#000' }}>
          {l.t}
        </div>
      ))}
    </div>
  );
}
